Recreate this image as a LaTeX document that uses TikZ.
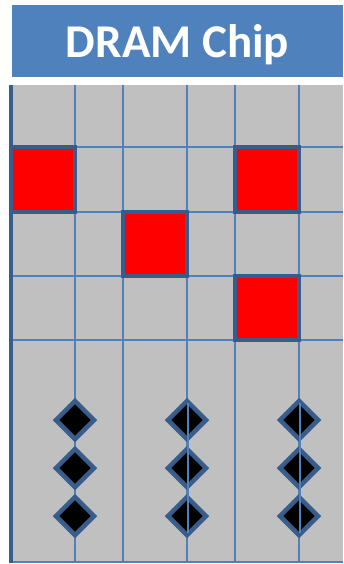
\documentclass[tikz,border=0pt]{standalone}
\usepackage{fontspec}
\setmainfont{Carlito}
\usetikzlibrary{shapes.geometric}
\definecolor{chipblue}{HTML}{4F81BD}
\definecolor{edgeblue}{HTML}{385D8A}
\definecolor{cellgray}{HTML}{C0C0C0}
\definecolor{bitred}{HTML}{FF0000}

\begin{document}
\begin{tikzpicture}[
  x=1pt, y=-1pt,
  banner/.style={fill=chipblue, minimum width=331pt, minimum height=72pt, inner sep=0pt, text depth=0pt, text=white, font=\fontsize{47}{47}\selectfont\bfseries},
  gridline/.style={draw=chipblue, line width=1.6pt},
  bitcell/.style={fill=bitred, draw=edgeblue, line width=3.5pt},
  pin/.style={diamond, fill=black, draw=edgeblue, line width=4.5pt, minimum width=40pt, minimum height=40pt, inner sep=0pt}
]
  \useasboundingbox (0,0) rectangle (343,564);
  \node[banner] (title) at (177.5,41) {DRAM Chip};
  % chip body
  \fill[cellgray] (10,85) rectangle (343,562);
  \foreach \x in {75,123,187,235,299}
    \draw[gridline] (\x,85) -- (\x,562);
  \foreach \y in {147,212,276,340,562}
    \draw[gridline] (10,\y) -- (343,\y);
  \draw[draw=edgeblue, line width=4pt] (10.5,85) -- (10.5,563);
  % stored bits
  \draw[bitcell] (11.5,147) rectangle (75,212);
  \draw[bitcell] (235,147) rectangle (299,212);
  \draw[bitcell] (123,212) rectangle (187,276);
  \draw[bitcell] (235,276) rectangle (299,340);
  % pins
  \foreach \x/\c in {75/a,187/b,299/c}
    \foreach \y/\r in {420/1,468/2,516/3}
      \node[pin] (pin-\c\r) at (\x,\y) {};
  \foreach \x in {187,299}
    \draw[gridline] (\x+1,403) -- (\x+1,533);
\end{tikzpicture}
\end{document}
